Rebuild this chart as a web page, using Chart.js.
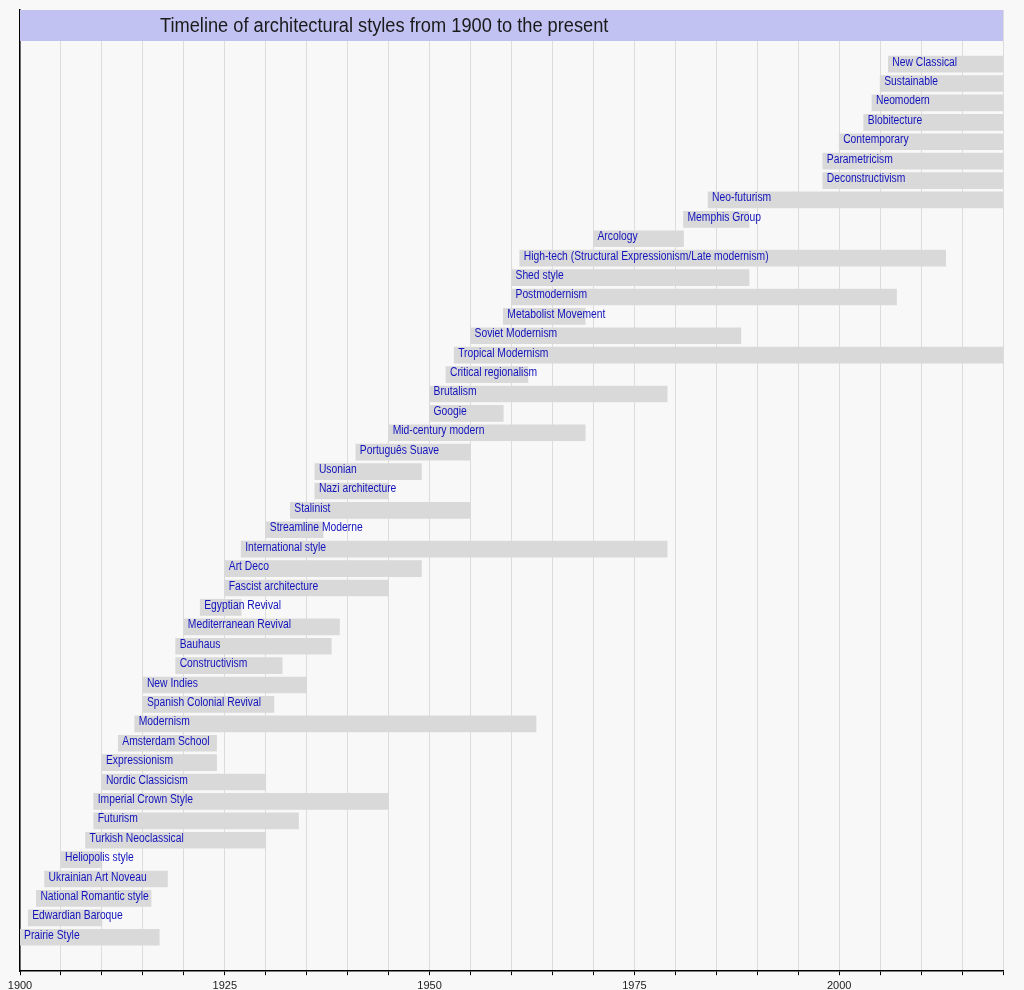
<!DOCTYPE html>
<html>
<head>
<meta charset="utf-8">
<script src="https://cdn.jsdelivr.net/npm/chart.js@4.4.0/dist/chart.umd.min.js"></script>
<style>
  html, body { margin: 0; padding: 0; background: #f8f8f8; }
  #wrap { width: 1024px; height: 990px; }
</style>
</head>
<body>
<div id="wrap"><canvas id="timeline"></canvas></div>
<script>
// styles listed bottom to top
const styles = [
  "Prairie Style", "Edwardian Baroque", "National Romantic style", "Ukrainian Art Noveau",
  "Heliopolis style", "Turkish Neoclassical", "Futurism", "Imperial Crown Style",
  "Nordic Classicism", "Expressionism", "Amsterdam School", "Modernism",
  "Spanish Colonial Revival", "New Indies", "Constructivism", "Bauhaus",
  "Mediterranean Revival", "Egyptian Revival", "Fascist architecture", "Art Deco",
  "International style", "Streamline Moderne", "Stalinist", "Nazi architecture",
  "Usonian", "Português Suave", "Mid-century modern", "Googie",
  "Brutalism", "Critical regionalism", "Tropical Modernism", "Soviet Modernism",
  "Metabolist Movement", "Postmodernism", "Shed style",
  "High-tech (Structural Expressionism/Late modernism)", "Arcology", "Memphis Group",
  "Neo-futurism", "Deconstructivism", "Parametricism", "Contemporary",
  "Blobitecture", "Neomodern", "Sustainable", "New Classical"
];
const startYears = [
  1900, 1901, 1902, 1903, 1905, 1908, 1909, 1909,
  1910, 1910, 1912, 1914, 1915, 1915, 1919, 1919,
  1920, 1922, 1925, 1925, 1927, 1930, 1933, 1936,
  1936, 1941, 1945, 1950, 1950, 1952, 1953, 1955,
  1959, 1960, 1960, 1961, 1970, 1981, 1984, 1998,
  1998, 2000, 2003, 2004, 2005, 2006
];
const endYears = [
  1917, 1910, 1916, 1918, 1910, 1930, 1934, 1945,
  1930, 1924, 1924, 1963, 1931, 1935, 1932, 1938,
  1939, 1927, 1945, 1949, 1979, 1937, 1955, 1945,
  1949, 1955, 1969, 1959, 1979, 1962, 2020, 1988,
  1969, 2007, 1989, 2013, 1981, 1989, 2020, 2020,
  2020, 2020, 2020, 2020, 2020, 2020
];
const tickYears = [1900, 1925, 1950, 1975, 2000];
const chartTitle = "Timeline of architectural styles from 1900 to the present";

const bars = styles.map((name, i) => ({ x: [startYears[i], endYears[i]], y: i }));

// title band across the top of the plot, under the left axis line
const titleBand = {
  id: "titleBand",
  beforeDatasetsDraw(chart) {
    const { ctx, chartArea } = chart;
    ctx.save();
    ctx.fillStyle = "#c2c2f2";
    ctx.fillRect(chartArea.left, 10, chartArea.right - chartArea.left, 31);
    ctx.fillStyle = "#1a1a1a";
    ctx.font = "20px 'Liberation Sans', Arial, sans-serif";
    ctx.textBaseline = "alphabetic";
    ctx.translate(160, 32);
    ctx.scale(0.912, 1);
    ctx.fillText(chartTitle, 0, 0);
    ctx.restore();
  }
};

// style names written at the start of each bar
const barLabels = {
  id: "barLabels",
  afterDatasetsDraw(chart) {
    const { ctx } = chart;
    const meta = chart.getDatasetMeta(0);
    ctx.save();
    ctx.fillStyle = "#1212bc";
    ctx.font = "12px 'Liberation Sans', Arial, sans-serif";
    ctx.textBaseline = "alphabetic";
    meta.data.forEach((el, i) => {
      const left = Math.min(el.x, el.base);
      ctx.save();
      ctx.translate(left + 4, el.y + 1.5);
      ctx.scale(0.86, 1);
      ctx.fillText(styles[i], 0, 0);
      ctx.restore();
    });
    ctx.restore();
  }
};

new Chart(document.getElementById("timeline").getContext("2d"), {
  type: "bar",
  data: {
    datasets: [
      {
        data: bars,
        backgroundColor: "#d9d9d9",
        borderWidth: 0,
        barThickness: 16,
      },
    ],
  },
  options: {
    indexAxis: "y",
    responsive: true,
    maintainAspectRatio: false,
    animation: false,
    layout: { padding: { left: 20, right: 21, top: 10, bottom: -6 } },
    plugins: {
      legend: { display: false },
      tooltip: { enabled: false },
      title: { display: false },
    },
    scales: {
      x: {
        type: "linear",
        min: 1900,
        max: 2020,
        grid: {
          color: "#dcdcdc",
          tickColor: "#000",
          tickLength: 4,
          lineWidth: 1,
        },
        border: { color: "#000", width: 1.5 },
        ticks: {
          stepSize: 5,
          padding: 6,
          color: "#222",
          font: { family: "'Liberation Sans', Arial, sans-serif", size: 11, lineHeight: 0.8 },
          maxRotation: 0,
          autoSkip: false,
          callback: (v) => (tickYears.includes(v) ? String(v) : ""),
        },
      },
      y: {
        type: "linear",
        min: -1.75,
        max: 47.79,
        offset: false,
        z: 1,
        grid: { display: false, drawTicks: false },
        border: { color: "#000", width: 1.5 },
        ticks: { display: false },
      },
    },
  },
  plugins: [titleBand, barLabels],
});
</script>
</body>
</html>
